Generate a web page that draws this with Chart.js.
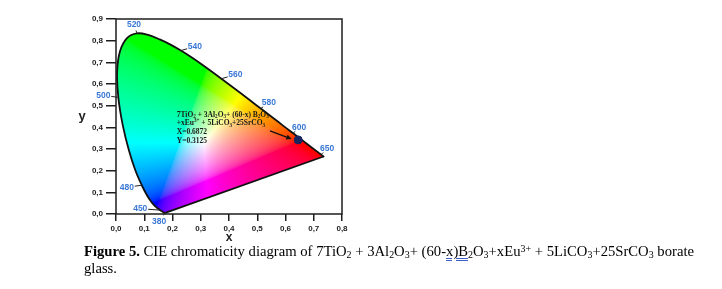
<!DOCTYPE html>
<html>
<head>
<meta charset="utf-8">
<script src="https://cdn.jsdelivr.net/npm/chart.js@4.4.0/dist/chart.umd.min.js"></script>
<style>
  body { margin: 0; background: #fff; width: 722px; height: 289px; overflow: hidden; position: relative; }
  #wrap { position: absolute; left: 0; top: 0; width: 360px; height: 245px; }
  #cap { position: absolute; left: 84px; top: 243px; width: 638px; font-family: "Liberation Serif", "Times New Roman", serif;
         font-size: 14.67px; line-height: 16.5px; color: #000; white-space: nowrap; }
  #cap sub, #cap sup { font-size: 0.68em; line-height: 0; }
  #cap sub { vertical-align: -0.18em; }
  #cap sup { vertical-align: 0.45em; }
  .sq { text-decoration: underline #3b5fc4; text-decoration-style: double; text-underline-offset: 2px; }
</style>
</head>
<body>
<div id="wrap"><canvas id="cie" width="360" height="245"></canvas></div>
<div id="cap"><b>Figure 5.</b> CIE chromaticity diagram of 7TiO<sub>2</sub> + 3Al<sub>2</sub>O<sub>3</sub>+ (60-<span class="sq">x)B</span><sub>2</sub>O<sub>3</sub>+xEu<sup>3+</sup> + 5LiCO<sub>3</sub>+25SrCO<sub>3</sub> borate<br>glass.</div>
<script>
// CIE 1931 spectral locus, 5 nm steps
const wavelengths = [380,385,390,395,400,405,410,415,420,425,430,435,440,445,450,455,460,465,470,475,480,485,490,495,
  500,505,510,515,520,525,530,535,540,545,550,555,560,565,570,575,580,585,590,595,600,605,610,615,620,625,630,635,640,
  645,650,655,660,665,670,675,680,685,690,695,700];
const locusX = [0.1741,0.1740,0.1738,0.1736,0.1733,0.1730,0.1726,0.1721,0.1714,0.1703,0.1689,0.1669,0.1644,0.1611,0.1566,
  0.1510,0.1440,0.1355,0.1241,0.1096,0.0913,0.0687,0.0454,0.0235,0.0082,0.0039,0.0139,0.0389,0.0743,0.1142,0.1547,0.1929,
  0.2296,0.2658,0.3016,0.3373,0.3731,0.4087,0.4441,0.4788,0.5125,0.5448,0.5752,0.6029,0.6270,0.6482,0.6658,0.6801,0.6915,
  0.7006,0.7079,0.7140,0.7190,0.7230,0.7260,0.7283,0.7300,0.7311,0.7320,0.7327,0.7334,0.7340,0.7344,0.7346,0.7347];
const locusY = [0.0050,0.0050,0.0049,0.0049,0.0048,0.0048,0.0048,0.0048,0.0051,0.0058,0.0069,0.0086,0.0109,0.0138,0.0177,
  0.0227,0.0297,0.0399,0.0578,0.0868,0.1327,0.2007,0.2950,0.4127,0.5384,0.6548,0.7502,0.8120,0.8338,0.8262,0.8059,0.7816,
  0.7543,0.7243,0.6923,0.6589,0.6245,0.5896,0.5547,0.5202,0.4866,0.4544,0.4242,0.3965,0.3725,0.3514,0.3340,0.3197,0.3083,
  0.2993,0.2920,0.2859,0.2809,0.2770,0.2740,0.2717,0.2700,0.2689,0.2680,0.2673,0.2666,0.2660,0.2656,0.2654,0.2653];
const markedWl = [380, 450, 480, 500, 520, 540, 560, 580, 600, 650];

// measured sample point (as placed in the figure)
const sampleX = [0.645];
const sampleY = [0.342];
const noteLines = ['7TiO_2 + 3Al_2O_3+ (60-x) B_2O_3', '+xEu^{3+} + 5LiCO_3+25SrCO_3', 'X=0.6872', 'Y=0.3125'];

const xTicks = [0, 0.1, 0.2, 0.3, 0.4, 0.5, 0.6, 0.7, 0.8];
const yTicks = [0, 0.1, 0.2, 0.3, 0.4, 0.5, 0.6, 0.7, 0.8, 0.9];

// layout bits (pixel offsets of wavelength labels, note anchor in data space)
const wlOffset = { 380: [-6, 8.5], 450: [-20, -1.5], 480: [-15, 2], 500: [-15, -2], 520: [-3, -8.5],
  540: [14, -4], 560: [14, -4], 580: [8, -6], 600: [6, -5.5], 650: [6, -6] };
const noteAt = { x: 0.215, y: 0.458 };
const arrowFrom = { x: 0.545, y: 0.384 }, arrowTo = { x: 0.622, y: 0.346 };

const locusPts = wavelengths.map((w, i) => ({ x: locusX[i], y: locusY[i] }));
const purplePts = [locusPts[locusPts.length - 1], locusPts[0]];

function xyToRgb(x, y) {
  const Y = 1, X = x / y, Z = (1 - x - y) / y;
  let r = 3.2406 * X - 1.5372 * Y - 0.4986 * Z;
  let g = -0.9689 * X + 1.8758 * Y + 0.0415 * Z;
  let b = 0.0557 * X - 0.2040 * Y + 1.0570 * Z;
  r = Math.max(r, 0); g = Math.max(g, 0); b = Math.max(b, 0);
  const mx = Math.max(r, g, b) || 1;
  r /= mx; g /= mx; b /= mx;
  const gam = v => v <= 0.0031308 ? 12.92 * v : 1.055 * Math.pow(v, 1 / 2.4) - 0.055;
  return [gam(r) * 255, gam(g) * 255, gam(b) * 255];
}

// follow the drawn (smoothed) locus so the fill sits under the outline
function locusPath(ctx, chart) {
  const pts = chart.getDatasetMeta(0).data;
  ctx.beginPath();
  ctx.moveTo(pts[0].x, pts[0].y);
  for (let i = 1; i < pts.length; i++) {
    const p = pts[i - 1], q = pts[i];
    ctx.bezierCurveTo(p.cp2x ?? p.x, p.cp2y ?? p.y, q.cp1x ?? q.x, q.cp1y ?? q.y, q.x, q.y);
  }
  ctx.closePath();
}

const colorFill = {
  id: 'colorFill',
  beforeDatasetsDraw(chart) {
    const { ctx, chartArea: a, scales: { x: xs, y: ys } } = chart;
    const w = Math.ceil(a.right - a.left), h = Math.ceil(a.bottom - a.top);
    const off = document.createElement('canvas');
    off.width = w; off.height = h;
    const octx = off.getContext('2d');
    const img = octx.createImageData(w, h);
    for (let j = 0; j < h; j++) {
      const yv = Math.max(ys.getValueForPixel(a.top + j + 0.5), 0.004);
      for (let i = 0; i < w; i++) {
        const xv = xs.getValueForPixel(a.left + i + 0.5);
        const c = xyToRgb(xv, yv);
        const k = (j * w + i) * 4;
        img.data[k] = c[0]; img.data[k + 1] = c[1]; img.data[k + 2] = c[2]; img.data[k + 3] = 255;
      }
    }
    octx.putImageData(img, 0, 0);
    ctx.save();
    locusPath(ctx, chart);
    ctx.clip();
    ctx.drawImage(off, a.left, a.top);
    ctx.restore();
  }
};

function drawRich(ctx, str, x, y, size) {
  const parts = str.split(/(_\{[^}]*\}|\^\{[^}]*\}|_.|\^.)/).filter(s => s);
  let cx = x;
  parts.forEach(p => {
    let txt = p, fs = size, dy = 0;
    if (p[0] === '_' || p[0] === '^') {
      txt = p[1] === '{' ? p.slice(2, -1) : p.slice(1);
      fs = size * 0.68;
      dy = p[0] === '_' ? size * 0.25 : -size * 0.35;
    }
    ctx.font = 'bold ' + fs + 'px "Liberation Serif", "Times New Roman", serif';
    ctx.fillText(txt, cx, y + dy);
    cx += ctx.measureText(txt).width;
  });
}

const extras = {
  id: 'extras',
  afterDatasetsDraw(chart) {
    const { ctx, chartArea: a, scales: { x: xs, y: ys } } = chart;
    ctx.save();
    // frame
    ctx.strokeStyle = '#1e1e1e';
    ctx.lineWidth = 1.5;
    ctx.strokeRect(a.left, a.top, a.right - a.left, a.bottom - a.top);

    // upright y title
    ctx.font = 'bold 13px Arial, "Liberation Sans", sans-serif';
    ctx.fillStyle = '#222';
    ctx.textAlign = 'center';
    ctx.textBaseline = 'middle';
    ctx.fillText('y', 82, (a.top + a.bottom) / 2);

    // wavelength labels
    ctx.font = 'bold 8.5px Arial, "Liberation Sans", sans-serif';
    markedWl.forEach(wl => {
      const i = wavelengths.indexOf(wl);
      const px = xs.getPixelForValue(locusX[i]), py = ys.getPixelForValue(locusY[i]);
      const [dx, dy] = wlOffset[wl];
      const d = Math.hypot(dx, dy), len = Math.max(3, d - 8);
      ctx.strokeStyle = '#222';
      ctx.lineWidth = 1;
      ctx.beginPath();
      ctx.moveTo(px, py);
      ctx.lineTo(px + dx / d * len, py + dy / d * len);
      ctx.stroke();
      ctx.fillStyle = '#3a78d6';
      ctx.fillText(String(wl), px + dx, py + dy);
    });

    // arrow
    const x1 = xs.getPixelForValue(arrowFrom.x), y1 = ys.getPixelForValue(arrowFrom.y);
    const x2 = xs.getPixelForValue(arrowTo.x), y2 = ys.getPixelForValue(arrowTo.y);
    const ang = Math.atan2(y2 - y1, x2 - x1);
    ctx.strokeStyle = '#111';
    ctx.fillStyle = '#111';
    ctx.lineWidth = 1.3;
    ctx.beginPath();
    ctx.moveTo(x1, y1);
    ctx.lineTo(x2 - 4 * Math.cos(ang), y2 - 4 * Math.sin(ang));
    ctx.stroke();
    ctx.beginPath();
    ctx.moveTo(x2, y2);
    ctx.lineTo(x2 - 6 * Math.cos(ang - 0.45), y2 - 6 * Math.sin(ang - 0.45));
    ctx.lineTo(x2 - 6 * Math.cos(ang + 0.45), y2 - 6 * Math.sin(ang + 0.45));
    ctx.closePath();
    ctx.fill();

    // note text
    const nx = xs.getPixelForValue(noteAt.x), ny = ys.getPixelForValue(noteAt.y);
    ctx.textAlign = 'left';
    ctx.fillStyle = '#1a1a1a';
    noteLines.forEach((ln, k) => drawRich(ctx, ln, nx, ny + k * 8.6, 7.5));
    ctx.restore();
  }
};

const tickFont = { family: 'Arial, "Liberation Sans", sans-serif', size: 8, weight: 'bold' };
const fmt = v => v.toFixed(1).replace('.', ',');

new Chart(document.getElementById('cie'), {
  type: 'scatter',
  data: {
    datasets: [
      { data: locusPts, showLine: true, borderColor: '#111', borderWidth: 1.8, pointRadius: 0, tension: 0.35,
        borderCapStyle: 'round', order: 3 },
      { data: purplePts, showLine: true, borderColor: '#111', borderWidth: 1.8, pointRadius: 0, tension: 0, order: 2 },
      { data: sampleX.map((x, i) => ({ x, y: sampleY[i] })), pointRadius: 4, backgroundColor: '#17265f',
        borderColor: '#17265f', order: 1 }
    ]
  },
  options: {
    responsive: false,
    animation: false,
    events: [],
    layout: { padding: { left: 75, top: 19, right: 18, bottom: 0 } },
    plugins: { legend: { display: false }, tooltip: { enabled: false } },
    scales: {
      x: {
        type: 'linear', min: 0, max: 0.8,
        afterBuildTicks: s => { s.ticks = xTicks.map(v => ({ value: v })); },
        afterFit: s => { s.height = 31; },
        ticks: { callback: fmt, font: tickFont, color: '#222', padding: 3, maxRotation: 0 },
        grid: { drawOnChartArea: false, drawTicks: true, tickLength: 7, color: '#1e1e1e', lineWidth: 1.5 },
        border: { display: false },
        title: { display: true, text: 'x', font: { family: 'Arial, "Liberation Sans", sans-serif', size: 12, weight: 'bold' },
                 color: '#222', padding: 0 }
      },
      y: {
        type: 'linear', min: 0, max: 0.9,
        afterBuildTicks: s => { s.ticks = yTicks.map(v => ({ value: v })); },
        afterFit: s => { s.width = 41; },
        ticks: { callback: fmt, font: tickFont, color: '#222', padding: 3 },
        grid: { drawOnChartArea: false, drawTicks: true, tickLength: 10, color: '#1e1e1e', lineWidth: 1.5 },
        border: { display: false },
        title: { display: false }
      }
    }
  },
  plugins: [colorFill, extras]
});
</script>
</body>
</html>
